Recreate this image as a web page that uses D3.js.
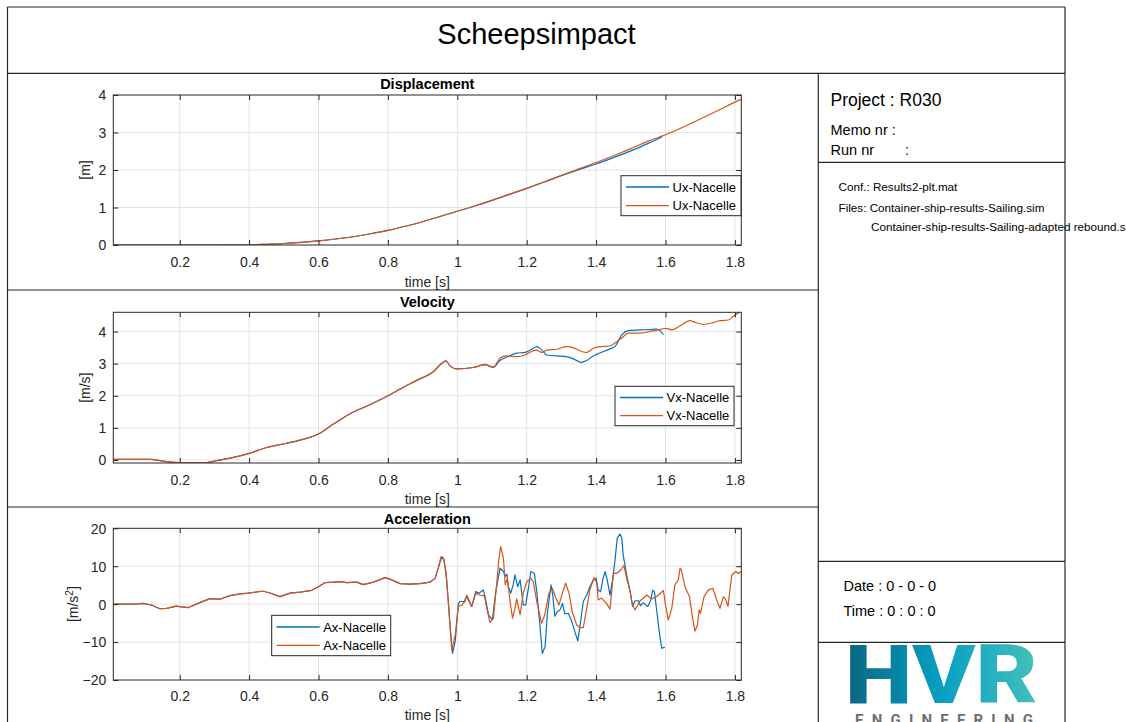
<!DOCTYPE html>
<html>
<head>
<meta charset="utf-8">
<script src="https://cdn.jsdelivr.net/npm/d3@7"></script>
<style>
html,body{margin:0;padding:0;background:#fff;overflow:hidden;}
svg{display:block;font-family:"Liberation Sans",Arial,Helvetica,sans-serif;}
</style>
</head>
<body>
<svg id="fig" width="1126" height="722"></svg>
<script>
// ---------------- DATA ----------------
const mainTitle = "Scheepsimpact";
const panelTitles = ["Displacement", "Velocity", "Acceleration"];
const yLabels = ["[m]", "[m/s]", "[m/s²]"];
const xLabel = "time [s]";
const xTicks = [0.2, 0.4, 0.6, 0.8, 1.0, 1.2, 1.4, 1.6, 1.8];
const xTickLabels = ["0.2", "0.4", "0.6", "0.8", "1", "1.2", "1.4", "1.6", "1.8"];
const xDomain = [0.0086, 1.8184];
const dispYTicks = [0, 1, 2, 3, 4];
const velYTicks = [0, 1, 2, 3, 4];
const accYTicks = [-20, -10, 0, 10, 20];
const dispYDomain = [0, 4];
const velYDomain = [-0.094, 4.6];
const accYDomain = [-20, 20];
const legendDisp = ["Ux-Nacelle", "Ux-Nacelle"];
const legendVel = ["Vx-Nacelle", "Vx-Nacelle"];
const legendAcc = ["Ax-Nacelle", "Ax-Nacelle"];

// Displacement
const dispTimeBlue = [0.01,0.1,0.2,0.3,0.4,0.45,0.5,0.55,0.6,0.65,0.7,0.75,0.8,0.85,0.9,0.95,1.0,1.05,1.1,1.15,1.2,1.25,1.3,1.35,1.4,1.45,1.5,1.55,1.59];
const dispBlue     = [0,0,0,-0.005,0.003,0.02,0.04,0.07,0.11,0.16,0.22,0.3,0.39,0.5,0.62,0.76,0.9,1.04,1.19,1.35,1.51,1.68,1.85,2.01,2.16,2.33,2.51,2.71,2.88];
const dispTimeOrange = [0.01,0.1,0.2,0.3,0.4,0.45,0.5,0.55,0.6,0.65,0.7,0.75,0.8,0.85,0.9,0.95,1.0,1.05,1.1,1.15,1.2,1.25,1.3,1.35,1.4,1.45,1.5,1.55,1.6,1.65,1.7,1.75,1.8,1.82];
const dispOrange     = [0,0,0,-0.005,0.003,0.02,0.04,0.07,0.11,0.16,0.22,0.3,0.39,0.5,0.62,0.76,0.9,1.04,1.19,1.35,1.51,1.68,1.86,2.03,2.2,2.38,2.57,2.77,2.94,3.14,3.36,3.58,3.81,3.89];

// Velocity
const velTimeBlue = [0.01,0.114,0.163,0.2,0.249,0.278,0.307,0.355,0.398,0.451,0.508,0.547,0.6,0.643,0.691,0.748,0.8,0.835,0.883,0.931,0.955,0.967,0.979,0.998,1.046,1.08,1.104,1.123,1.142,1.171,1.195,1.214,1.229,1.243,1.258,1.287,1.315,1.334,1.358,1.373,1.392,1.411,1.44,1.454,1.474,1.493,1.527,1.565,1.575,1.585,1.594];
const velBlue     = [0.02,0.02,-0.05,-0.08,-0.09,-0.08,-0.02,0.08,0.2,0.39,0.52,0.62,0.81,1.12,1.44,1.72,2.0,2.21,2.48,2.75,3.01,3.09,2.93,2.84,2.88,2.98,2.89,3.1,3.2,3.33,3.35,3.45,3.53,3.43,3.27,3.24,3.22,3.15,3.04,3.1,3.24,3.33,3.46,3.53,3.9,4.03,4.05,4.07,4.08,4.02,3.9];
const velTimeOrange = [0.01,0.114,0.163,0.2,0.249,0.278,0.307,0.355,0.398,0.451,0.508,0.547,0.6,0.643,0.691,0.748,0.8,0.835,0.883,0.931,0.955,0.967,0.979,0.998,1.046,1.08,1.104,1.123,1.142,1.171,1.195,1.214,1.229,1.243,1.258,1.287,1.315,1.334,1.358,1.373,1.392,1.411,1.44,1.454,1.474,1.493,1.527,1.565,1.603,1.618,1.642,1.671,1.68,1.709,1.738,1.757,1.781,1.795,1.815];
const velOrange     = [0.02,0.02,-0.05,-0.08,-0.09,-0.08,-0.02,0.08,0.2,0.39,0.52,0.62,0.81,1.12,1.44,1.72,2.0,2.21,2.48,2.75,3.01,3.09,2.93,2.84,2.88,2.96,2.89,3.17,3.24,3.22,3.27,3.38,3.42,3.35,3.42,3.45,3.53,3.5,3.38,3.35,3.48,3.53,3.55,3.64,3.8,3.95,3.95,4.02,4.1,4.05,4.18,4.34,4.31,4.22,4.28,4.34,4.36,4.47,4.62];

// Acceleration
const accTimeBlue = [0.01,0.05,0.08,0.095,0.12,0.143,0.162,0.19,0.205,0.225,0.258,0.287,0.316,0.345,0.374,0.398,0.427,0.441,0.46,0.489,0.518,0.547,0.58,0.6,0.619,0.643,0.662,0.681,0.71,0.729,0.758,0.792,0.806,0.835,0.864,0.893,0.921,0.936,0.945,
  0.955,0.962,0.969,0.979,0.986,0.994,1.003,1.008,1.02,1.027,1.034,1.042,1.053,1.062,1.075,1.08,1.09,1.101,1.111,1.123,1.133,1.138,1.143,1.147,1.154,1.161,1.166,1.174,1.181,1.19,1.197,1.205,1.212,1.222,1.229,1.238,1.245,1.253,1.26,1.27,1.275,1.281,1.288,1.296,1.303,1.31,1.32,1.33,1.339,1.347,1.354,1.363,1.373,1.382,1.392,1.4,1.406,1.413,1.419,1.426,1.432,1.44,1.448,1.454,1.461,1.469,1.474,1.478,1.488,1.498,1.505,1.512,1.522,1.528,1.536,1.543,1.549,1.557,1.563,1.568,1.575,1.582,1.589,1.598];
const accBlue = [0,0,0.05,0.2,-0.3,-1.2,-1.1,-0.5,-0.7,-0.9,0.4,1.45,1.3,2.25,2.7,2.9,3.3,3.4,2.95,2.0,2.9,3.15,3.65,4.6,5.7,5.8,5.95,5.7,5.8,5.15,5.8,7.0,6.6,5.4,5.3,5.4,5.8,6.8,9.5,
  12.5,11.6,6.8,-5.5,-13.0,-9.8,0.2,0.7,0.7,2.0,0.7,-0.6,3.3,2.9,3.7,2.0,-2.8,-4.1,3.3,9.5,8.6,7.3,7.9,4.6,2.9,5.1,7.7,4.6,6.4,-0.2,-0.2,4.2,8.6,8.1,3.3,-5.5,-13.0,-11.2,-2.0,5.1,2.4,-3.2,-2.0,-1.5,0.2,-2.6,-2.4,-4.6,-7.3,-9.7,-5.5,0.7,2.4,4.6,6.4,6.8,3.7,3.3,6.4,8.6,6.4,2.4,6.8,11.2,17.4,18.5,17.4,13.0,7.7,3.3,-0.6,0.9,0.9,-0.4,0.4,-0.2,-0.6,0.9,3.7,3.3,-2.0,-7.3,-11.6,-11.4];
const accTimeOrange = [0.01,0.05,0.08,0.095,0.12,0.143,0.162,0.19,0.205,0.225,0.258,0.287,0.316,0.345,0.374,0.398,0.427,0.441,0.46,0.489,0.518,0.547,0.58,0.6,0.619,0.643,0.662,0.681,0.71,0.729,0.758,0.792,0.806,0.835,0.864,0.893,0.921,0.936,0.945,
  0.953,0.96,0.967,0.974,0.984,0.994,1.003,1.013,1.022,1.027,1.034,1.04,1.046,1.053,1.065,1.078,1.085,1.094,1.104,1.114,1.12,1.125,1.133,1.138,1.144,1.152,1.159,1.166,1.171,1.181,1.19,1.2,1.212,1.219,1.229,1.243,1.252,1.264,1.274,1.284,1.293,1.303,1.312,1.322,1.331,1.344,1.354,1.363,1.373,1.382,1.394,1.402,1.406,1.416,1.43,1.44,1.45,1.459,1.471,1.48,1.488,1.498,1.505,1.512,1.527,1.546,1.56,1.575,1.594,1.6,1.608,1.618,1.627,1.637,1.642,1.646,1.656,1.669,1.678,1.685,1.692,1.697,1.701,1.711,1.723,1.736,1.743,1.749,1.757,1.767,1.774,1.78,1.791,1.803,1.81,1.818];
const accOrange = [0,0,0.05,0.2,-0.3,-1.2,-1.1,-0.5,-0.7,-0.9,0.4,1.45,1.3,2.25,2.7,2.9,3.3,3.4,2.95,2.0,2.9,3.15,3.65,4.6,5.7,5.8,5.95,5.7,5.8,5.15,5.8,7.0,6.6,5.4,5.3,5.4,5.8,6.8,9.5,
  12.5,12.2,8.6,0.7,-12.1,-8.1,-0.6,-0.2,0.7,2.4,1.1,-0.6,0.7,2.9,2.4,2.2,-1.1,-4.8,-3.7,5.9,12.1,15.2,12.1,5.1,6.8,0.7,-3.7,-1.1,1.4,-2.8,2.9,5.9,6.8,5.9,0.7,-5.0,-2.8,2.9,4.2,1.6,-0.2,2.9,5.5,2.9,-2.0,-5.5,-6.2,-6.2,-1.1,3.7,7.0,5.5,1.1,1.6,0.2,-1.3,8.1,8.1,9.0,10.2,6.8,3.3,-0.2,-1.5,0.9,2.4,1.4,2.0,3.6,-0.2,-4.2,-1.1,5.1,6.4,9.5,9.0,4.6,2.0,-3.7,-7.1,-5.5,-1.5,-2.4,2.0,3.7,4.2,2.4,0.7,-1.1,2.0,1.1,-0.6,7.7,8.6,8.1,8.6];

// Info panel texts
const projectText = "Project : R030";
const memoText = "Memo nr :";
const runText = "Run nr";
const confText = "Conf.: Results2-plt.mat";
const filesText = "Files: Container-ship-results-Sailing.sim";
const files2Text = "Container-ship-results-Sailing-adapted rebound.sim";
const dateText = "Date : 0 - 0 - 0";
const timeText = "Time : 0 : 0 : 0";

// ---------------- DRAW ----------------
const BLUE = "#0072BD", ORANGE = "#D95319", INK = "#262626", GRID = "#e3e3e3";
const svg = d3.select("#fig");
svg.append("rect").attr("width",1126).attr("height",722).attr("fill","#fff");

const defs = svg.append("defs");

const axL = 113.3, axR = 741.3;
const panels = [
  {top:95, bottom:245, title:panelTitles[0], titleY:89, ylab:yLabels[0], ylabX:85, xlabY:286.5, tickY:262,
   yDom:dispYDomain, yTicks:dispYTicks,
   series:[[dispTimeBlue,dispBlue,BLUE],[dispTimeOrange,dispOrange,ORANGE]], curve:d3.curveMonotoneX,
   legend:{x:621, y:175.7, w:120, h:40, r1:187, r2:205.7, labels:legendDisp}},
  {top:312.3, bottom:463, title:panelTitles[1], titleY:306.5, ylab:yLabels[1], ylabX:85, xlabY:504, tickY:479.5,
   yDom:velYDomain, yTicks:velYTicks,
   series:[[velTimeBlue,velBlue,BLUE],[velTimeOrange,velOrange,ORANGE]], curve:d3.curveMonotoneX,
   legend:{x:615, y:386.3, w:119, h:39.4, r1:397.5, r2:415.7, labels:legendVel}},
  {top:528.3, bottom:680, title:panelTitles[2], titleY:523.5, ylab:yLabels[2], ylabX:73, xlabY:720, tickY:696,
   yDom:accYDomain, yTicks:accYTicks,
   series:[[accTimeBlue,accBlue,BLUE],[accTimeOrange,accOrange,ORANGE]], curve:d3.curveLinear,
   legend:{x:271.7, y:615.3, w:119, h:40.4, r1:627, r2:645.3, labels:legendAcc}}
];

const x = d3.scaleLinear().domain(xDomain).range([axL, axR]);
const FONT = '"Liberation Sans",Arial,Helvetica,sans-serif';

panels.forEach((p, i) => {
  const y = d3.scaleLinear().domain(p.yDom).range([p.bottom, p.top]);
  const g = svg.append("g");
  const clipId = "clip" + i;
  defs.append("clipPath").attr("id", clipId).append("rect")
    .attr("x", axL).attr("y", p.top).attr("width", axR - axL).attr("height", p.bottom - p.top);

  // grid
  const gg = g.append("g");
  xTicks.forEach(t => gg.append("line").attr("x1", x(t)).attr("x2", x(t)).attr("y1", p.top).attr("y2", p.bottom)
    .attr("stroke", GRID).attr("stroke-width", 1));
  p.yTicks.forEach(t => { if (t > p.yDom[0] && t < p.yDom[1]) gg.append("line").attr("x1", axL).attr("x2", axR)
    .attr("y1", y(t)).attr("y2", y(t)).attr("stroke", GRID).attr("stroke-width", 1); });

  // series
  p.series.forEach(([tt, vv, col]) => {
    const pts = tt.map((t, k) => [t, vv[k]]);
    g.append("path").datum(pts).attr("clip-path", `url(#${clipId})`)
      .attr("d", d3.line().x(d => x(d[0])).y(d => y(d[1])).curve(p.curve))
      .attr("fill", "none").attr("stroke", col).attr("stroke-width", 1.2).attr("stroke-linejoin","round");
  });

  // axes (bottom/left with labels, top/right ticks only)
  const tickLen = 5;
  const xb = g.append("g").attr("transform", `translate(0,${p.bottom})`)
    .call(d3.axisBottom(x).tickValues(xTicks).tickSize(-tickLen).tickSizeOuter(0)
      .tickFormat((d, k) => xTickLabels[k]));
  const xt = g.append("g").attr("transform", `translate(0,${p.top})`)
    .call(d3.axisTop(x).tickValues(xTicks).tickSize(-tickLen).tickSizeOuter(0).tickFormat(""));
  const yl = g.append("g").attr("transform", `translate(${axL},0)`)
    .call(d3.axisLeft(y).tickValues(p.yTicks).tickSize(-tickLen).tickSizeOuter(0).tickFormat(d3.format("d")));
  const yr = g.append("g").attr("transform", `translate(${axR},0)`)
    .call(d3.axisRight(y).tickValues(p.yTicks).tickSize(-tickLen).tickSizeOuter(0).tickFormat(""));
  [xb, xt, yl, yr].forEach(a => {
    a.select(".domain").remove();
    a.selectAll("line").attr("stroke", INK).attr("stroke-width", 1);
    a.selectAll("text").attr("fill", INK).attr("font-size", 14).attr("font-family", FONT);
  });
  xb.selectAll("text").attr("dy", null).attr("y", p.tickY - p.bottom + 5);
  yl.selectAll("text").attr("x", -7).attr("dy", "0.35em");

  // box
  g.append("rect").attr("x", axL).attr("y", p.top).attr("width", axR - axL).attr("height", p.bottom - p.top)
    .attr("fill", "none").attr("stroke", INK).attr("stroke-width", 1);

  // title
  g.append("text").attr("x", (axL + axR) / 2).attr("y", p.titleY).attr("text-anchor", "middle")
    .attr("font-size", 14.5).attr("font-weight", "bold").attr("fill", "#000").text(p.title);
  // x label
  g.append("text").attr("x", (axL + axR) / 2).attr("y", p.xlabY).attr("text-anchor", "middle")
    .attr("font-size", 14).attr("fill", INK).text(xLabel);
  // y label
  const cy = (p.top + p.bottom) / 2;
  const ylab = g.append("text").attr("transform", `translate(${p.ylabX},${cy}) rotate(-90)`)
    .attr("text-anchor", "middle").attr("dy", "0.35em").attr("font-size", 14).attr("fill", INK);
  if (p.ylab.indexOf("²") >= 0) {
    ylab.append("tspan").text("[m/s");
    ylab.append("tspan").attr("font-size", 10).attr("dy", -5).text("2");
    ylab.append("tspan").attr("dy", 5).text("]");
  } else ylab.text(p.ylab);

  // legend
  const L = p.legend;
  const lg = g.append("g");
  lg.append("rect").attr("x", L.x).attr("y", L.y).attr("width", L.w).attr("height", L.h)
    .attr("fill", "#fff").attr("stroke", INK).attr("stroke-width", 1);
  [[L.r1, BLUE, L.labels[0]], [L.r2, ORANGE, L.labels[1]]].forEach(([ry, col, lab]) => {
    lg.append("line").attr("x1", L.x + 5).attr("x2", L.x + 48).attr("y1", ry).attr("y2", ry)
      .attr("stroke", col).attr("stroke-width", 1.3);
    lg.append("text").attr("x", L.x + 51.5).attr("y", ry).attr("dy", "0.35em").attr("font-size", 13)
      .attr("fill", "#000").text(lab);
  });
});

// ---- frame & header ----
svg.append("text").attr("x", 536.5).attr("y", 43.5).attr("text-anchor", "middle")
  .attr("font-size", 29).attr("fill", "#000").text(mainTitle);

// info panel text
svg.append("text").attr("x", 830.5).attr("y", 105.5).attr("font-size", 17.5).attr("fill", "#000").text(projectText);
svg.append("text").attr("x", 830.5).attr("y", 135).attr("font-size", 14.5).attr("fill", "#000").text(memoText);
const rt = svg.append("text").attr("x", 830.5).attr("y", 155).attr("font-size", 14.5).attr("fill", "#000");
rt.append("tspan").text(runText);
rt.append("tspan").attr("x", 905).text(":");
svg.append("text").attr("x", 838.5).attr("y", 190.5).attr("font-size", 11.7).attr("fill", "#000").text(confText);
svg.append("text").attr("x", 838.5).attr("y", 211.5).attr("font-size", 11.7).attr("fill", "#000").text(filesText);
svg.append("text").attr("x", 871).attr("y", 230.5).attr("font-size", 11.7).attr("fill", "#000").text(files2Text);
svg.append("text").attr("x", 843.5).attr("y", 591).attr("font-size", 14.5).attr("fill", "#000").text(dateText);
svg.append("text").attr("x", 843.5).attr("y", 615.5).attr("font-size", 14.5).attr("fill", "#000").text(timeText);

// logo
const grad = defs.append("linearGradient").attr("id", "hvrGrad").attr("x1", "0%").attr("x2", "100%");
grad.append("stop").attr("offset", "0%").attr("stop-color", "#0b6581");
grad.append("stop").attr("offset", "50%").attr("stop-color", "#06a0c2");
grad.append("stop").attr("offset", "100%").attr("stop-color", "#47bfbd");
svg.append("text").attr("x", 845).attr("y", 703).attr("font-size", 81).attr("font-weight", 900)
  .attr("font-family", "Roboto, Inter, 'Liberation Sans', sans-serif")
  .attr("textLength", 193).attr("lengthAdjust", "spacingAndGlyphs")
  .attr("fill", "url(#hvrGrad)").text("HVR");
svg.append("text").attr("x", 855).attr("y", 725).attr("font-size", 15).attr("font-weight", "bold")
  .attr("font-family", "Roboto, 'Liberation Sans', sans-serif")
  .attr("textLength", 178).attr("lengthAdjust", "spacing")
  .attr("fill", "#6e6e6e").text("ENGINEERING");

// frame lines
const fr = svg.append("g").attr("stroke", INK).attr("stroke-width", 1.2).attr("fill", "none");
const frameLines = [
  [7.5, 7, 7.5, 722], [1065, 7, 1065, 722], [7.5, 7, 1065, 7], [7.5, 73.3, 1065, 73.3],
  [7.5, 290, 818.3, 290], [7.5, 507, 818.3, 507], [818.3, 73.3, 818.3, 722],
  [818.3, 162.3, 1065, 162.3], [818.3, 561.3, 1065, 561.3], [818.3, 642.3, 1065, 642.3]
];
frameLines.forEach(([x1, y1, x2, y2]) => fr.append("line").attr("x1", x1).attr("y1", y1).attr("x2", x2).attr("y2", y2));
</script>
</body>
</html>
